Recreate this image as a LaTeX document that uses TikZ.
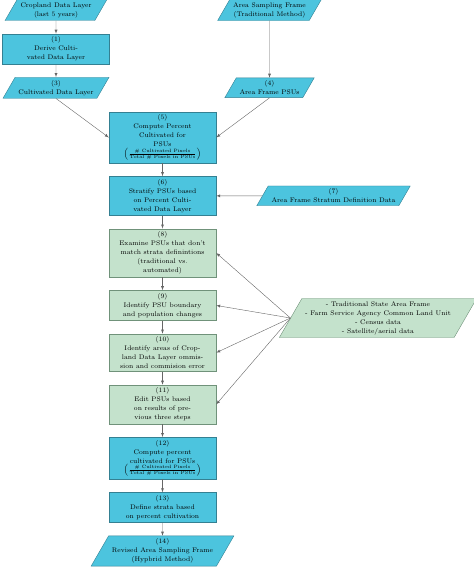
\documentclass[tikz,border=0pt]{standalone}
\usepackage{amsmath}
\usepackage{tikz}
\usetikzlibrary{shapes.geometric,positioning}
\definecolor{boxblue}{RGB}{76,196,222}
\definecolor{edgeblue}{RGB}{52,128,146}
\definecolor{boxgreen}{RGB}{196,226,204}
\definecolor{edgegreen}{RGB}{112,146,122}
\tikzset{
    procblue/.style={rectangle,draw=edgeblue,fill=boxblue,minimum width=107pt,inner ysep=2.8pt,align=center,font=\fontsize{6.7}{9}\selectfont},
    procgreen/.style={procblue,draw=edgegreen,fill=boxgreen},
    datablue/.style={trapezium,trapezium left angle=60,trapezium right angle=120,draw=edgeblue,fill=boxblue,inner ysep=2.8pt,align=center,font=\fontsize{6.7}{9}\selectfont},
    datagreen/.style={datablue,draw=edgegreen,fill=boxgreen},
    flow/.style={draw=black!60,-latex}
}
\newcommand{\pixfrac}[1]{\(\left(\frac{\text{\# Cultivated Pixels}}{\text{Total \# Pixels in #1}}\right)\)}

\begin{document}
\begin{tikzpicture}[node distance=13pt]
                \useasboundingbox (0,0) rectangle (474pt,-579pt);
                % inputs
                \node [datablue] (cdl) at (56pt,-10pt) {Cropland Data Layer\\(last 5 years)};
                \node [procblue,below=of cdl] (derive) {(1)\\Derive Culti-\\vated Data Layer};
                \node [datablue,below=of derive] (cult) {(3)\\Cultivated Data Layer};
                \node [datablue] (asf) at (269.5pt,-10pt) {Area Sampling Frame\\(Traditional Method)};
                \node [datablue] (psus) at (269.5pt,0 |- cult) {(4)\\Area Frame PSUs};
                % main column
                \node [procblue] (pct) at (162.5pt,-137.5pt) {(5)\\Compute Percent\\Cultivated for\\PSUs\\\pixfrac{PSUs}};
                \node [procblue,below=of pct] (strat) {(6)\\Stratify PSUs based\\on Percent Culti-\\vated Data Layer};
                \node [datablue] (def) at (333.5pt,0 |- strat) {(7)\\Area Frame Stratum Definition Data};
                \node [procgreen,below=of strat] (exam) {(8)\\Examine PSUs that don't\\match strata definintions\\(traditional vs.\\automated)};
                \node [procgreen,below=of exam] (bound) {(9)\\Identify PSU boundary\\and population changes};
                \node [procgreen,below=of bound] (err) {(10)\\Identify areas of Crop-\\land Data Layer ommis-\\sion and commision error};
                \node [procgreen,below=of err] (edit) {(11)\\Edit PSUs based\\on results of pre-\\vious three steps};
                \node [procblue,below=of edit] (pct2) {(12)\\Compute percent\\cultivated for PSUs\\\pixfrac{PSUs}};
                \node [procblue,below=of pct2] (strata) {(13)\\Define strata based\\on percent cultivation};
                \node [datablue,below=of strata] (rasf) {(14)\\Revised Area Sampling Frame\\(Hypbrid Method)};
                \node [datagreen] (src) at (378pt,-318pt) {- Traditional State Area Frame\\- Farm Service Agency Common Land Unit\\- Census data\\- Satellite/aerial data};
                % connectors
                \draw [flow] (cdl) -- (derive);
                \draw [flow] (derive) -- (cult);
                \draw [flow] (asf) -- (psus);
                \draw [flow] (cult.south) -- (pct.west);
                \draw [flow] (psus.south) -- (pct.east);
                \draw [flow] (pct) -- (strat);
                \draw [flow] (def.west) -- (strat.east);
                \draw [flow] (strat) -- (exam);
                \draw [flow] (exam) -- (bound);
                \draw [flow] (bound) -- (err);
                \draw [flow] (err) -- (edit);
                \draw [flow] (edit) -- (pct2);
                \draw [flow] (pct2) -- (strata);
                \draw [flow] (strata) -- (rasf);
                \foreach \t in {exam,bound,err,edit}
                    \draw [flow] (src.west) -- (\t.east);
            \end{tikzpicture}
\end{document}
